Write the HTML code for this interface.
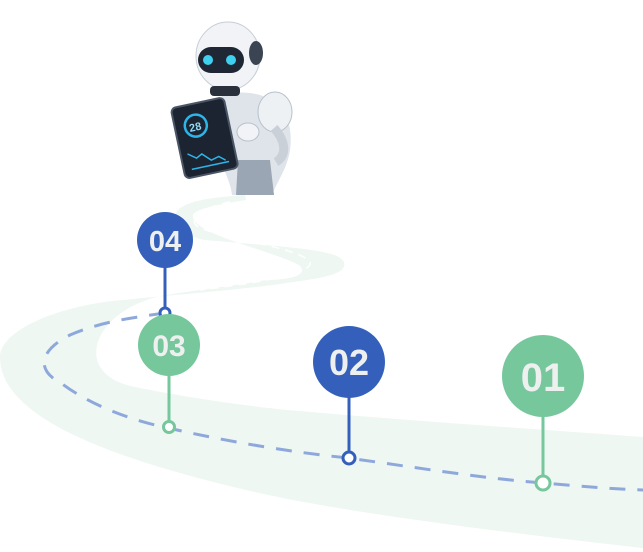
<!DOCTYPE html>
<html><head><style>
html,body{margin:0;padding:0;background:#fff;width:643px;height:552px;overflow:hidden}
svg{display:block}
text{font-family:"Liberation Sans",sans-serif;font-weight:bold;fill:#eef0f0}
</style></head><body>
<svg width="643" height="552" viewBox="0 0 643 552">
<path d="M643,548 C480,530 330,510 246,490 C120,460 0,420 0,357 C0,330 60,305 123,300 C180,294 240,290 287,283 C320,278 348,275 344,262 C338,250 300,248 205,240 C180,235 170,222 176,213 C182,203 200,198 245,195 L246,200 C215,205 190,210 193,217 C196,235 270,250 299,265 C310,275 290,280 266,280 C220,288 180,292 156,297 C110,310 90,340 98,363 C105,378 120,384 135,387 C200,400 250,406 287,410 C400,420 520,428 643,437 Z" fill="#eef7f2"/>
<path d="M230,202 C200,208 185,220 200,228 C230,240 300,248 310,262 C315,275 240,285 200,290" fill="none" stroke="#fff" stroke-width="1.5" stroke-dasharray="8,6"/>
<path d="M165,313 C130,318 100,322 70,335 C40,350 35,370 61,383 C90,405 130,420 168,428 C230,442 290,452 348,458 C420,468 480,478 543,483 C580,486 610,489 643,490" fill="none" stroke="#8fa8dc" stroke-width="3" stroke-dasharray="16,12"/>
<!-- robot -->
<g>
<path d="M222,95 C250,88 285,95 290,130 C294,160 280,175 272,195 L232,195 C230,175 215,160 215,130 Z" fill="#dfe4ea"/>
<path d="M238,160 L270,160 L274,195 L236,195 Z" fill="#9aa6b4"/>
<ellipse cx="275" cy="112" rx="17" ry="20" fill="#eef1f4" stroke="#b8c1cc"/>
<path d="M274,128 C285,140 288,155 276,162" fill="none" stroke="#c9d0d8" stroke-width="9"/>
<ellipse cx="228" cy="56" rx="32" ry="34" fill="#f1f3f6" stroke="#c7ced7"/>
<ellipse cx="256" cy="53" rx="7" ry="12" fill="#3a4452"/>
<rect x="198" y="47" width="46" height="26" rx="13" fill="#1e2733"/>
<circle cx="208" cy="60" r="5" fill="#3fd0f0"/>
<circle cx="231" cy="60" r="5" fill="#3fd0f0"/>
<rect x="210" y="86" width="30" height="10" rx="4" fill="#2a313c"/>
<g transform="rotate(-12 205 140)">
<rect x="178" y="102" width="54" height="72" rx="5" fill="#1b2430" stroke="#4a5566" stroke-width="2"/>
<circle cx="199" cy="124" r="11" fill="none" stroke="#2fb4e8" stroke-width="2.5"/>
<text x="192" y="129" font-size="11" style="fill:#8fd8f5">28</text>
<path d="M185,150 l8,6 6,-3 8,8 8,-2 6,5" fill="none" stroke="#2fb4e8" stroke-width="1.5"/>
<line x1="186" y1="166" x2="224" y2="166" stroke="#2fb4e8" stroke-width="1.5"/>
</g>
<ellipse cx="248" cy="132" rx="11" ry="9" fill="#f1f3f6" stroke="#b8c1cc"/>
</g>
<!-- pins -->
<line x1="165" y1="240" x2="165" y2="313" stroke="#3460bb" stroke-width="3"/>
<circle cx="165" cy="313" r="5" fill="#fff" stroke="#3460bb" stroke-width="3"/>
<circle cx="165" cy="240" r="28" fill="#3460bb"/>
<text x="165" y="251" font-size="29" text-anchor="middle">04</text>
<line x1="169" y1="345" x2="169" y2="427" stroke="#76c79c" stroke-width="3"/>
<circle cx="169" cy="427" r="5.5" fill="#fff" stroke="#76c79c" stroke-width="3"/>
<circle cx="169" cy="345" r="31" fill="#76c79c"/>
<text x="169" y="356" font-size="30" text-anchor="middle">03</text>
<line x1="349" y1="361" x2="349" y2="458" stroke="#3460bb" stroke-width="3"/>
<circle cx="349" cy="458" r="6" fill="#fff" stroke="#3460bb" stroke-width="3"/>
<circle cx="349" cy="362" r="36" fill="#3460bb"/>
<text x="349" y="375" font-size="36" text-anchor="middle">02</text>
<line x1="543" y1="375" x2="543" y2="483" stroke="#76c79c" stroke-width="3"/>
<circle cx="543" cy="483" r="7" fill="#fff" stroke="#76c79c" stroke-width="3"/>
<circle cx="543" cy="376" r="41" fill="#76c79c"/>
<text x="543" y="391" font-size="40" text-anchor="middle">01</text>
</svg>
</body></html>
